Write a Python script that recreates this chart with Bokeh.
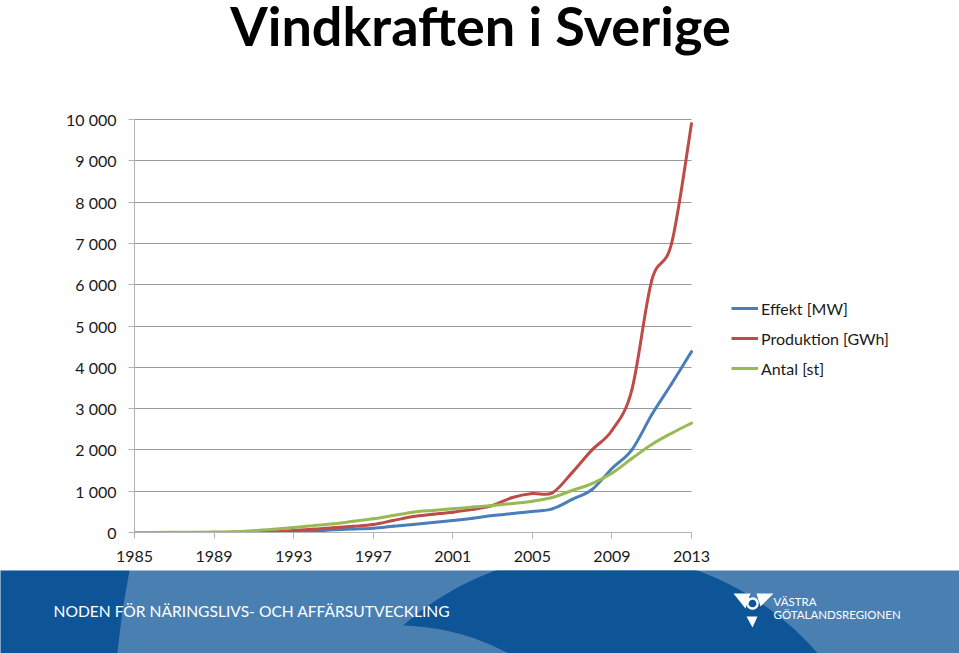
from bokeh.plotting import figure
from bokeh.models import (ColumnDataSource, Range1d, FixedTicker, Legend, LegendItem)
from bokeh.layouts import column
from bokeh.embed import file_html
from bokeh.resources import INLINE
from bokeh.core.properties import value
import numpy as np

# ---------------- data ----------------
title_text = "Vindkraften i Sverige"
years = list(range(1985, 2014))
effekt_mw = [0, 0, 1, 1, 2, 3, 4, 6, 10, 25, 65, 85, 105, 150, 194, 240, 290, 345,
             411, 460, 509, 572, 800, 1040, 1550, 2000, 2850, 3600, 4380]
produktion_gwh = [0, 0, 1, 2, 3, 5, 8, 20, 50, 80, 113, 150, 194, 290, 387, 440, 492,
                  560, 654, 848, 944, 960, 1450, 2000, 2470, 3450, 6100, 7000, 9900]
antal_st = [0, 2, 5, 8, 12, 20, 45, 80, 120, 165, 210, 270, 331, 410, 492, 535, 573,
            615, 654, 700, 758, 847, 1017, 1186, 1436, 1790, 2131, 2404, 2650]
series_names = ["Effekt [MW]", "Produktion [GWh]", "Antal [st]"]
series_colors = ["#4A7EBB", "#BE4B48", "#98B954"]
x_ticks = [1985, 1989, 1993, 1997, 2001, 2005, 2009, 2013]
y_ticks = [0, 1000, 2000, 3000, 4000, 5000, 6000, 7000, 8000, 9000, 10000]
y_tick_labels = ["0", "1 000", "2 000", "3 000", "4 000", "5 000", "6 000",
                 "7 000", "8 000", "9 000", "10 000"]
banner_text = "NODEN FÖR NÄRINGSLIVS- OCH AFFÄRSUTVECKLING"
logo_lines = ["VÄSTRA", "GÖTALANDSREGIONEN"]

FONT = "Lato"
W = 959
H_MAIN = 570
FL, FR, FT, FB = 134, 691, 119, 532   # plotting-area geometry in page px
x_end = 2013 + (W - FR) * (2013 - 1985) / (FR - FL)
y_end = 10000 * FB / (FB - FT)        # frame reaches the top of the canvas

# ---------------- main chart (with title) ----------------
p = figure(width=W, height=H_MAIN, x_range=Range1d(1985, x_end), y_range=Range1d(0, y_end),
           output_backend="svg", toolbar_location=None,
           min_border_left=FL, min_border_right=0, min_border_top=0,
           min_border_bottom=H_MAIN - FB, frame_align=False)
p.outline_line_color = None
p.extra_x_ranges = {"px": Range1d(FL, W)}
p.extra_y_ranges = {"py": Range1d(FB, 0)}

p.text(x=[480], y=[25], text=[title_text], x_range_name="px", y_range_name="py",
       text_font=value(FONT), text_font_size="54px", text_font_style="bold",
       text_align="center", text_baseline="middle", text_color="#000000")

def smooth_segments(xs, ys):
    xs = np.asarray(xs, float)
    ys = np.asarray(ys, float)
    n = len(xs)
    xp = np.concatenate([[xs[0]], xs, [xs[-1]]])
    yp = np.concatenate([[ys[0]], ys, [ys[-1]]])
    d = {"x0": [], "y0": [], "x1": [], "y1": [], "cx0": [], "cy0": [], "cx1": [], "cy1": []}
    for i in range(n - 1):
        x0, y0 = xp[i + 1], yp[i + 1]
        x1, y1 = xp[i + 2], yp[i + 2]
        d["x0"].append(x0); d["y0"].append(y0)
        d["x1"].append(x1); d["y1"].append(y1)
        d["cx0"].append(x0 + (x1 - xp[i]) / 6.0)
        d["cy0"].append(y0 + (y1 - yp[i]) / 6.0)
        d["cx1"].append(x1 - (xp[i + 3] - x0) / 6.0)
        d["cy1"].append(y1 - (yp[i + 3] - y0) / 6.0)
    return ColumnDataSource(d)

legend_items = []
for vals, name, col in zip([effekt_mw, produktion_gwh, antal_st], series_names, series_colors):
    src = smooth_segments(years, vals)
    p.bezier(x0="x0", y0="y0", x1="x1", y1="y1", cx0="cx0", cy0="cy0",
             cx1="cx1", cy1="cy1", source=src, line_color=col, line_width=3,
             line_cap="round")
    lr = p.line(x=[np.nan], y=[np.nan], line_color=col, line_width=3)
    legend_items.append(LegendItem(label=name, renderers=[lr]))

legend = Legend(items=legend_items, location=(597, 154), orientation="vertical",
                padding=0, margin=0, spacing=10, glyph_width=27, glyph_height=20,
                label_height=20, label_standoff=3, label_text_font=FONT,
                label_text_font_size="16px", label_text_color="#1a1a1a",
                background_fill_alpha=0, border_line_alpha=0)
p.add_layout(legend, "center")

p.yaxis.ticker = FixedTicker(ticks=y_ticks)
p.yaxis.major_label_overrides = {t: l for t, l in zip(y_ticks, y_tick_labels)}
p.yaxis.bounds = (0, 10000)
p.xaxis.ticker = FixedTicker(ticks=x_ticks)
p.xaxis.bounds = (1985, 2013)
for ax in (p.xaxis, p.yaxis):
    ax.major_label_text_font = FONT
    ax.major_label_text_font_size = "16px"
    ax.major_label_text_color = "#1a1a1a"
    ax.axis_line_color = "#b3b3b3"
    ax.major_tick_line_color = "#b3b3b3"
    ax.major_tick_in = 0
    ax.major_tick_out = 6
    ax.minor_tick_line_color = None
p.yaxis.major_label_standoff = 12
p.xaxis.major_label_standoff = 12
p.xgrid.visible = False
p.ygrid.grid_line_color = "#999999"
p.ygrid.grid_line_width = 1
p.ygrid.cross_bounds = (1985, 2013)

# ---------------- banner ----------------
bf = figure(width=W, height=653 - H_MAIN, x_range=Range1d(0, W), y_range=Range1d(653, H_MAIN),
            output_backend="svg", toolbar_location=None, min_border=0,
            frame_align=False)
bf.axis.visible = False
bf.grid.visible = False
bf.outline_line_color = None
dark = "#0d5597"
light = "#4a7fb2"
bf.background_fill_color = light
bf.border_fill_color = light
bf.patch(x=[0, 129, 122, 116, 0], y=[570, 570, 610, 660, 660], fill_color=dark, line_color=None)
t = np.linspace(0, 2 * np.pi, 200)
bf.patch(x=596 + 293 * np.cos(t), y=845 + 293 * np.sin(t), fill_color=dark, line_color=None)
bf.patch(x=397 + 234 * np.cos(t), y=859 + 234 * np.sin(t), fill_color=light, line_color=None)
bf.text(x=[53], y=[610], text=[banner_text], text_font=value(FONT), text_font_size="15.6px",
        text_color="white", text_baseline="middle", text_align="left")
# logo mark
bf.patch(x=[733, 750, 745], y=[593, 593, 608], fill_color="white", line_color=None)
bf.patch(x=[756, 773, 760], y=[593, 593, 606], fill_color="white", line_color=None)
bf.patch(x=[746, 757, 752], y=[616, 616, 627], fill_color="white", line_color=None)
bf.patch(x=752 + 5 * np.cos(t), y=603 + 5 * np.sin(t), fill_color=None, line_color="white",
         line_width=2.5)
bf.text(x=[773, 773], y=[601, 614], text=logo_lines, text_font=value(FONT),
        text_font_size="11.5px", text_color="white", text_baseline="middle",
        text_align="left")

layout = column(p, bf, spacing=0)
open("out.html", "w").write(file_html(layout, INLINE))
